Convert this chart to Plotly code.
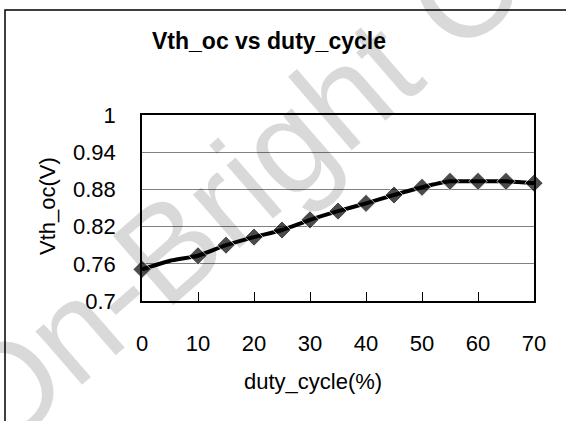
import plotly.graph_objects as go

duty_cycle = [0, 5, 10, 15, 20, 25, 30, 35, 40, 45, 50, 55, 60, 65, 70]
vth_oc = [0.751, 0.765, 0.773, 0.790, 0.803, 0.8145, 0.831, 0.845, 0.8575, 0.871, 0.8834, 0.893, 0.893, 0.893, 0.890]
marker_sizes = [14, 0, 14, 14, 14, 14, 14, 14, 14, 14, 14, 14, 14, 14, 14]
y_ticks = [0.7, 0.76, 0.82, 0.88, 0.94, 1.0]
y_tick_text = ["0.7", "0.76", "0.82", "0.88", "0.94", "1"]
x_ticks = [0, 10, 20, 30, 40, 50, 60, 70]

FONT = "Arial, Liberation Sans, sans-serif"
W, H = 566, 421
L, R, T, B = 142, 534, 115, 301

def px(x):
    return (x - L) / (R - L)

def py(y):
    return (B - y) / (B - T)

fig = go.Figure()
fig.add_trace(go.Scatter(
    x=duty_cycle, y=vth_oc, mode="lines+markers",
    line=dict(color="black", width=4, shape="spline", smoothing=0.5),
    marker=dict(symbol="diamond", size=marker_sizes, color="black"),
    showlegend=False, cliponaxis=False,
))

fig.update_layout(
    width=W, height=H,
    margin=dict(l=L, r=W - R, t=T, b=H - B, autoexpand=False),
    paper_bgcolor="white", plot_bgcolor="white",
    font=dict(family=FONT, size=22, color="black"),
    xaxis=dict(range=[0, 70], tickvals=x_ticks, showgrid=False, zeroline=False,
               showline=True, linecolor="black", linewidth=1.5, mirror=True,
               ticks="inside", ticklen=9, tickcolor="black", tickwidth=1,
               ticklabelstandoff=22, tickfont=dict(size=22)),
    yaxis=dict(range=[0.7, 1.0], tickvals=y_ticks, ticktext=y_tick_text,
               showgrid=True, gridcolor="#808080", gridwidth=1, zeroline=False,
               showline=True, linecolor="black", linewidth=1.5, mirror=True,
               ticks="", ticklabelstandoff=20, tickfont=dict(size=22)),
)

annotations = [
    dict(text="On-Bright C", x=px(232), y=py(192), xref="paper", yref="paper",
         showarrow=False, textangle=-41, font=dict(size=134, color="rgba(0,0,0,0.15)", family=FONT),
         xanchor="center", yanchor="middle"),
    dict(text="<b>Vth_oc vs duty_cycle</b>", x=px(269), y=py(41), xref="paper", yref="paper",
         showarrow=False, font=dict(size=23, family=FONT), xanchor="center", yanchor="middle"),
    dict(text="duty_cycle(%)", x=px(313), y=py(381), xref="paper", yref="paper",
         showarrow=False, font=dict(size=22, family=FONT), xanchor="center", yanchor="middle"),
    dict(text="Vth_oc(V)", x=px(47), y=py(206), xref="paper", yref="paper",
         showarrow=False, textangle=-90, font=dict(size=22, family=FONT), xanchor="center", yanchor="middle"),
]
fig.update_layout(annotations=annotations)

fig.add_shape(type="rect", xref="paper", yref="paper",
              x0=px(5), y0=py(440), x1=px(580), y1=py(10),
              line=dict(color="black", width=1.5), fillcolor="rgba(0,0,0,0)", layer="above")

fig.write_html("out.html", config={"displayModeBar": False},
               post_script="document.body.style.margin='0';document.body.style.padding='0';document.body.style.overflow='hidden';")
